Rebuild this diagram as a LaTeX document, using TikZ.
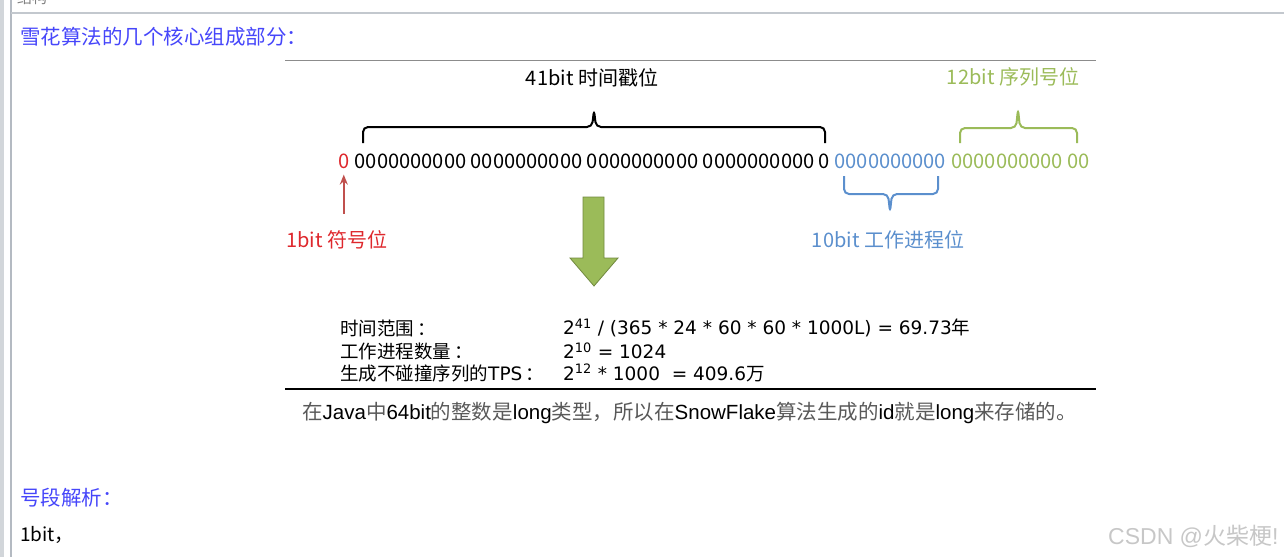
\documentclass[tikz,border=0pt]{standalone}
\usepackage{fontspec}
\setmainfont{Noto Sans CJK SC}
\newfontfamily\latina{Liberation Sans}
\newfontfamily\ancha{DejaVu Sans}
\usepackage{tikz}
\usetikzlibrary{positioning,arrows.meta}
\definecolor{Titulo}{RGB}{70,70,250}
\definecolor{Rojo}{RGB}{222,40,45}
\definecolor{RojoFlecha}{RGB}{192,80,77}
\definecolor{Azul}{RGB}{91,143,205}
\definecolor{Verde}{RGB}{155,187,89}
\definecolor{VerdeOscuro}{RGB}{113,137,63}
\definecolor{Marco}{RGB}{180,186,194}
\newcommand{\lat}[1]{\textcolor{black}{\latina #1}}
\tikzstyle{Texto}=[inner sep=0pt, anchor=west, font=\fontsize{18.5}{20}\selectfont]
\tikzstyle{Etiqueta}=[inner sep=0pt, anchor=center, font=\fontsize{20}{22}\selectfont]
\tikzstyle{Bits}=[Texto, font=\fontsize{20.1}{22}\selectfont]
\tikzstyle{Formula}=[Texto, font=\fontsize{18.5}{20}\selectfont\ancha]
\tikzstyle{Titular}=[Texto, text=Titulo, font=\fontsize{20.5}{22}\selectfont]
\tikzstyle{Llave}=[line width=2pt, rounded corners=5pt]
\tikzstyle{Flecha}=[-{Stealth[length=10pt,width=8pt]}, line width=2pt, draw=RojoFlecha]

\begin{document}
\begin{tikzpicture}[x=1pt, y=-1pt]
			\useasboundingbox (0,0) rectangle (1284,557);
			%Marco
			\fill[Marco!60] (0,0) rectangle (4,557);
			\draw[Marco, line width=1.5pt] (11,0) -- (11,557);
			\draw[Marco!80, line width=2pt] (11,12.5) -- (1284,12.5);
			\node[Texto, text=gray, font=\fontsize{15}{16}\selectfont] (cabecera) at (17,-2) {结构};

			%Nodos
			\node[Titular]	(titulo)	at (20,37)	{雪花算法的几个核心组成部分：};

			\node[Etiqueta]	(tiempo_lbl)	at (592,78)		{41bit 时间戳位};
			\node[Etiqueta, text=Verde]	(secuencia_lbl)	at (1013,77)	{12bit 序列号位};

			\node[Bits, text=Rojo]	(bit_signo)		at (338,161)	{0};
			\node[Bits]			(bit_tiempo)	[right=5pt of bit_signo]	{0000000000 0000000000 0000000000 0000000000 0};
			\node[Bits, text=Azul]	(bit_proceso)	[right=4pt of bit_tiempo]	{0000000000};
			\node[Bits, text=Verde]	(bit_secuencia)	[right=5pt of bit_proceso]	{0000000000 00};

			\node[Etiqueta, text=Rojo]	(signo_lbl)	at (337,240)	{1bit 符号位};
			\node[Etiqueta, text=Azul]	(proceso_lbl)	at (888,240)	{10bit 工作进程位};

			\node[Texto]	(rango)		at (340,328)	{时间范围\,：};
			\node[Texto]	(numero)	at (340,351)	{工作进程数量\,：};
			\node[Texto]	(tps)		at (340,373)	{生成不碰撞序列的{\ancha TPS}\,：};
			\node[Formula]	(rango_val)	at (563,328)	{2\textsuperscript{41} / (365 * 24 * 60 * 60 * 1000L) = 69.73{\rmfamily 年}};
			\node[Formula]	(numero_val)	at (563,351)	{2\textsuperscript{10} = 1024};
			\node[Formula]	(tps_val)	at (563,373)	{2\textsuperscript{12} * 1000 ~= 409.6{\rmfamily 万}};

			\node[Texto, text=black!65, font=\fontsize{20.5}{22}\selectfont]	(nota)	at (302,413)	{在\lat{Java}中\lat{64bit}的整数是\lat{long}类型，所以在\lat{SnowFlake}算法生成的\lat{id}就是\lat{long}来存储的。};

			\node[Titular]	(analisis)	at (20,498)	{号段解析：};
			\node[Texto, font=\fontsize{19}{21}\selectfont]	(unbit)	at (20,535)	{1bit，};
			\node[Texto, text=black!22, font=\fontsize{23}{25}\selectfont]	(marca)	at (1108,536)	{{\latina CSDN @}火柴梗{\latina !}};

			%Llaves
			\draw[Llave] (363,143) -- (363,127) -- (592,127) -- (594,110) -- (596,127) -- (825,127) -- (825,143);
			\draw[Llave, Verde] (960,143) -- (960,128) -- (1016,128) -- (1018,109) -- (1020,128) -- (1077,128) -- (1077,143);
			\draw[Llave, Azul] (844,176) -- (844,194) -- (888,194) -- (890,212) -- (892,194) -- (938,194) -- (938,176);

			%Lineas
			\draw[black!45, line width=1pt] (285,60) -- (1096,60);
			\draw[black, line width=2pt] (285,389) -- (1096,389);
			\draw[Flecha, shorten <=17pt, shorten >=6pt] (signo_lbl.north -| bit_signo.south) -- (bit_signo.south);
			\draw[fill=Verde, draw=VerdeOscuro, line width=0.8pt] (583,197) -- (604,197) -- (604,258) -- (618,258) -- (594,286) -- (570,258) -- (583,258) -- cycle;

		\end{tikzpicture}
\end{document}
